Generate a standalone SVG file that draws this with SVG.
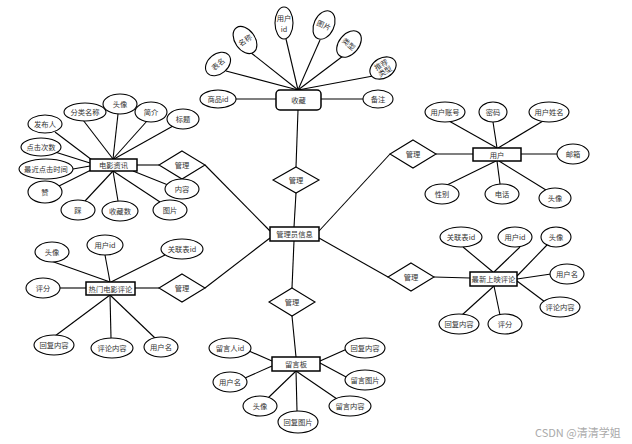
<svg xmlns="http://www.w3.org/2000/svg" width="632" height="444" viewBox="0 0 632 444">
<style>
.e{fill:#fff;stroke:#000;stroke-width:1.1}
.b{fill:#fff;stroke:#000;stroke-width:1.5}
.d{fill:#fff;stroke:#000;stroke-width:1.1}
.c line{stroke:#000;stroke-width:1.1}
text{font-family:"Noto Sans CJK SC","Liberation Sans",sans-serif;font-size:7.3px;fill:#333;text-anchor:middle;dominant-baseline:central}
.wm{font-size:11px;fill:#aaa;text-anchor:start;dominant-baseline:auto}
</style>
<rect width="632" height="444" fill="#fff"/>
<g id="connectors" class="c">
<line x1="298" y1="90" x2="226" y2="71"/>
<line x1="298" y1="90" x2="250" y2="52"/>
<line x1="298" y1="90" x2="286" y2="39"/>
<line x1="298" y1="90" x2="320" y2="40"/>
<line x1="298" y1="90" x2="343" y2="56"/>
<line x1="298" y1="90" x2="373" y2="76"/>
<line x1="236" y1="99" x2="276" y2="99"/>
<line x1="321" y1="99" x2="363" y2="99"/>
<line x1="298" y1="110" x2="296" y2="167"/>
<line x1="296" y1="193" x2="294" y2="227"/>
<line x1="270" y1="231" x2="205" y2="165"/>
<line x1="270" y1="238" x2="205" y2="288"/>
<line x1="319" y1="231" x2="390" y2="154"/>
<line x1="319" y1="238" x2="388" y2="277"/>
<line x1="294" y1="241" x2="292" y2="288"/>
<line x1="137" y1="165" x2="159" y2="165"/>
<line x1="92" y1="160" x2="55" y2="132"/>
<line x1="113" y1="159" x2="83" y2="120"/>
<line x1="113" y1="159" x2="118" y2="114"/>
<line x1="113" y1="159" x2="147" y2="121"/>
<line x1="114" y1="159" x2="173" y2="126"/>
<line x1="90" y1="163" x2="55" y2="152"/>
<line x1="90" y1="166" x2="73" y2="169"/>
<line x1="91" y1="170" x2="57" y2="187"/>
<line x1="113" y1="171" x2="85" y2="201"/>
<line x1="113" y1="171" x2="118" y2="201"/>
<line x1="113" y1="171" x2="160" y2="202"/>
<line x1="133" y1="171" x2="168" y2="185"/>
<line x1="135" y1="288" x2="159" y2="288"/>
<line x1="110" y1="282" x2="51" y2="261"/>
<line x1="110" y1="282" x2="105" y2="255"/>
<line x1="111" y1="282" x2="165" y2="255"/>
<line x1="86" y1="288" x2="60" y2="288"/>
<line x1="110" y1="295" x2="55" y2="336"/>
<line x1="110" y1="295" x2="111" y2="338"/>
<line x1="110" y1="295" x2="155" y2="338"/>
<line x1="434" y1="277" x2="470" y2="278"/>
<line x1="493" y1="272" x2="463" y2="247"/>
<line x1="494" y1="272" x2="520" y2="247"/>
<line x1="517" y1="276" x2="547" y2="245"/>
<line x1="517" y1="279" x2="551" y2="274"/>
<line x1="517" y1="281" x2="545" y2="302"/>
<line x1="494" y1="286" x2="462" y2="315"/>
<line x1="494" y1="286" x2="500" y2="315"/>
<line x1="436" y1="154" x2="473" y2="154"/>
<line x1="497" y1="148" x2="449" y2="121"/>
<line x1="497" y1="148" x2="493" y2="122"/>
<line x1="498" y1="148" x2="543" y2="121"/>
<line x1="521" y1="154" x2="557" y2="154"/>
<line x1="496" y1="161" x2="447" y2="185"/>
<line x1="497" y1="161" x2="500" y2="184"/>
<line x1="499" y1="161" x2="546" y2="190"/>
<line x1="292" y1="316" x2="296" y2="357"/>
<line x1="272" y1="361" x2="249" y2="351"/>
<line x1="272" y1="366" x2="245" y2="378"/>
<line x1="296" y1="371" x2="268" y2="398"/>
<line x1="296" y1="371" x2="297" y2="411"/>
<line x1="296" y1="371" x2="337" y2="399"/>
<line x1="320" y1="363" x2="348" y2="378"/>
<line x1="320" y1="361" x2="347" y2="349"/>
</g>
<g id="shoucang">
<rect class="b" x="276" y="90" width="45" height="20" rx="4"/>
<text x="298.5" y="100">收藏</text>
</g>
<g id="shoucang-attrs">
<g id="a-biaoming"><ellipse class="e" cx="218" cy="64" rx="14" ry="10" transform="rotate(-40 218 64)"/><text x="218" y="64" font-size="6" transform="rotate(-40 218 64)">表名</text></g>
<g id="a-mingcheng"><ellipse class="e" cx="245" cy="40" rx="10" ry="15" transform="rotate(-35 245 40)"/><text x="245" y="40" font-size="6.3" transform="rotate(-35 245 40)">名称</text></g>
<g id="a-yonghuid"><ellipse class="e" cx="284" cy="23" rx="9" ry="16"/><text x="284" y="18" font-size="6.3" fill="#3a3ab0">用户</text><text x="284" y="28.5" font-size="6.3" fill="#3a3ab0">id</text></g>
<g id="a-tupian"><ellipse class="e" cx="324" cy="25" rx="10" ry="15" transform="rotate(25 324 25)"/><text x="324" y="25" font-size="6.3" transform="rotate(25 324 25)">图片</text></g>
<g id="a-leixing"><ellipse class="e" cx="349" cy="44" rx="10" ry="15" transform="rotate(40 349 44)"/><text x="349" y="44" font-size="6.3" transform="rotate(40 349 44)">类型</text></g>
<g id="a-tuijian"><ellipse class="e" cx="383" cy="68" rx="14" ry="10" transform="rotate(-30 383 68)"/><text x="383" y="64" font-size="5.3" transform="rotate(-30 383 68)">推荐</text><text x="383" y="71.5" font-size="5.3" transform="rotate(-30 383 68)">类型</text></g>
<g id="a-shangpinid"><ellipse class="e" cx="218" cy="99" rx="18" ry="9"/><text x="218" y="99">商品id</text></g>
<g id="a-beizhu"><ellipse class="e" cx="378" cy="99" rx="15" ry="9"/><text x="378" y="99">备注</text></g>
</g>
<g id="guanliyuan">
<rect class="b" x="270" y="227" width="49" height="14"/>
<text x="294.5" y="234">管理员信息</text>
</g>
<g id="r-top"><polygon class="d" points="296,167 319,180 296,193 273,180"/><text x="296" y="180">管理</text></g>
<g id="r-dianying"><polygon class="d" points="182,151 205,165 182,179 159,165"/><text x="182" y="165">管理</text></g>
<g id="r-remen"><polygon class="d" points="182,274 205,288 182,302 159,288"/><text x="182" y="288">管理</text></g>
<g id="r-yonghu"><polygon class="d" points="413,140 436,154 413,168 390,154"/><text x="413" y="154">管理</text></g>
<g id="r-zuixin"><polygon class="d" points="411,263 434,277 411,291 388,277"/><text x="411" y="277">管理</text></g>
<g id="r-liuyan"><polygon class="d" points="292,288 315,302 292,316 269,302"/><text x="292" y="302">管理</text></g>
<g id="dianyingzixun">
<rect class="b" x="90" y="159" width="47" height="12"/>
<text x="113.5" y="165">电影资讯</text>
</g>
<g id="dianying-attrs">
<g><ellipse class="e" cx="45" cy="124" rx="17" ry="9"/><text x="45" y="124">发布人</text></g>
<g><ellipse class="e" cx="85" cy="112" rx="21" ry="9"/><text x="85" y="112">分类名称</text></g>
<g><ellipse class="e" cx="120" cy="104" rx="17" ry="10"/><text x="120" y="104">头像</text></g>
<g><ellipse class="e" cx="151" cy="112" rx="16" ry="10"/><text x="151" y="112">简介</text></g>
<g><ellipse class="e" cx="183" cy="119" rx="16" ry="10"/><text x="183" y="119">标题</text></g>
<g><ellipse class="e" cx="41" cy="147" rx="20" ry="9"/><text x="41" y="147">点击次数</text></g>
<g><ellipse class="e" cx="46" cy="169" rx="27" ry="10"/><text x="46" y="169">最近点击时间</text></g>
<g><ellipse class="e" cx="45" cy="192" rx="17" ry="11"/><text x="45" y="192">赞</text></g>
<g><ellipse class="e" cx="78" cy="210" rx="17" ry="10"/><text x="78" y="210">踩</text></g>
<g><ellipse class="e" cx="120" cy="211" rx="18" ry="10"/><text x="120" y="211">收藏数</text></g>
<g><ellipse class="e" cx="170" cy="210" rx="17" ry="10"/><text x="170" y="210">图片</text></g>
<g><ellipse class="e" cx="182" cy="189" rx="17" ry="10"/><text x="182" y="189">内容</text></g>
</g>
<g id="remen">
<rect class="b" x="86" y="282" width="49" height="13"/>
<text x="110.5" y="288.5">热门电影评论</text>
</g>
<g id="remen-attrs">
<g><ellipse class="e" cx="52" cy="252" rx="17" ry="10"/><text x="52" y="252">头像</text></g>
<g><ellipse class="e" cx="105" cy="245" rx="18" ry="10"/><text x="105" y="245">用户id</text></g>
<g><ellipse class="e" cx="182" cy="249" rx="21" ry="10"/><text x="182" y="249">关联表id</text></g>
<g><ellipse class="e" cx="43" cy="288" rx="17" ry="10"/><text x="43" y="288">评分</text></g>
<g><ellipse class="e" cx="54" cy="345" rx="20" ry="10"/><text x="54" y="345">回复内容</text></g>
<g><ellipse class="e" cx="112" cy="348" rx="21" ry="10"/><text x="112" y="348">评论内容</text></g>
<g><ellipse class="e" cx="161" cy="347" rx="17" ry="10"/><text x="161" y="347">用户名</text></g>
</g>
<g id="zuixin">
<rect class="b" x="470" y="272" width="47" height="14"/>
<text x="493.5" y="279">最新上映评论</text>
</g>
<g id="zuixin-attrs">
<g><ellipse class="e" cx="461" cy="237" rx="21" ry="10"/><text x="461" y="237">关联表id</text></g>
<g><ellipse class="e" cx="515" cy="237" rx="17" ry="10"/><text x="515" y="237">用户id</text></g>
<g><ellipse class="e" cx="556" cy="237" rx="15" ry="10"/><text x="556" y="237">头像</text></g>
<g><ellipse class="e" cx="567" cy="274" rx="17" ry="10"/><text x="567" y="274">用户名</text></g>
<g><ellipse class="e" cx="560" cy="307" rx="20" ry="10"/><text x="560" y="307">评论内容</text></g>
<g><ellipse class="e" cx="459" cy="324" rx="20" ry="10"/><text x="459" y="324">回复内容</text></g>
<g><ellipse class="e" cx="505" cy="324" rx="17" ry="10"/><text x="505" y="324">评分</text></g>
</g>
<g id="yonghu">
<rect class="b" x="473" y="148" width="48" height="13"/>
<text x="497" y="154.5">用户</text>
</g>
<g id="yonghu-attrs">
<g><ellipse class="e" cx="445" cy="112" rx="20" ry="10"/><text x="445" y="112">用户账号</text></g>
<g><ellipse class="e" cx="493" cy="112" rx="14" ry="10"/><text x="493" y="112">密码</text></g>
<g><ellipse class="e" cx="549" cy="112" rx="20" ry="10"/><text x="549" y="112">用户姓名</text></g>
<g><ellipse class="e" cx="573" cy="154" rx="16" ry="10"/><text x="573" y="154">邮箱</text></g>
<g><ellipse class="e" cx="442" cy="194" rx="17" ry="10"/><text x="442" y="194">性别</text></g>
<g><ellipse class="e" cx="502" cy="194" rx="17" ry="10"/><text x="502" y="194">电话</text></g>
<g><ellipse class="e" cx="555" cy="198" rx="16" ry="10"/><text x="555" y="198">头像</text></g>
</g>
<g id="liuyanban">
<rect class="b" x="272" y="357" width="48" height="14"/>
<text x="296" y="364">留言板</text>
</g>
<g id="liuyan-attrs">
<g><ellipse class="e" cx="230" cy="348" rx="21" ry="10"/><text x="230" y="348">留言人id</text></g>
<g><ellipse class="e" cx="230" cy="382" rx="17" ry="10"/><text x="230" y="382">用户名</text></g>
<g><ellipse class="e" cx="260" cy="406" rx="17" ry="10"/><text x="260" y="406">头像</text></g>
<g><ellipse class="e" cx="298" cy="422" rx="20" ry="11"/><text x="298" y="422">回复图片</text></g>
<g><ellipse class="e" cx="350" cy="406" rx="21" ry="10"/><text x="350" y="406">留言内容</text></g>
<g><ellipse class="e" cx="365" cy="380" rx="20" ry="10"/><text x="365" y="380">留言图片</text></g>
<g><ellipse class="e" cx="365" cy="348" rx="20" ry="10"/><text x="365" y="348">回复内容</text></g>
</g>
<text class="wm" x="535" y="437">CSDN @清清学姐</text>
</svg>
